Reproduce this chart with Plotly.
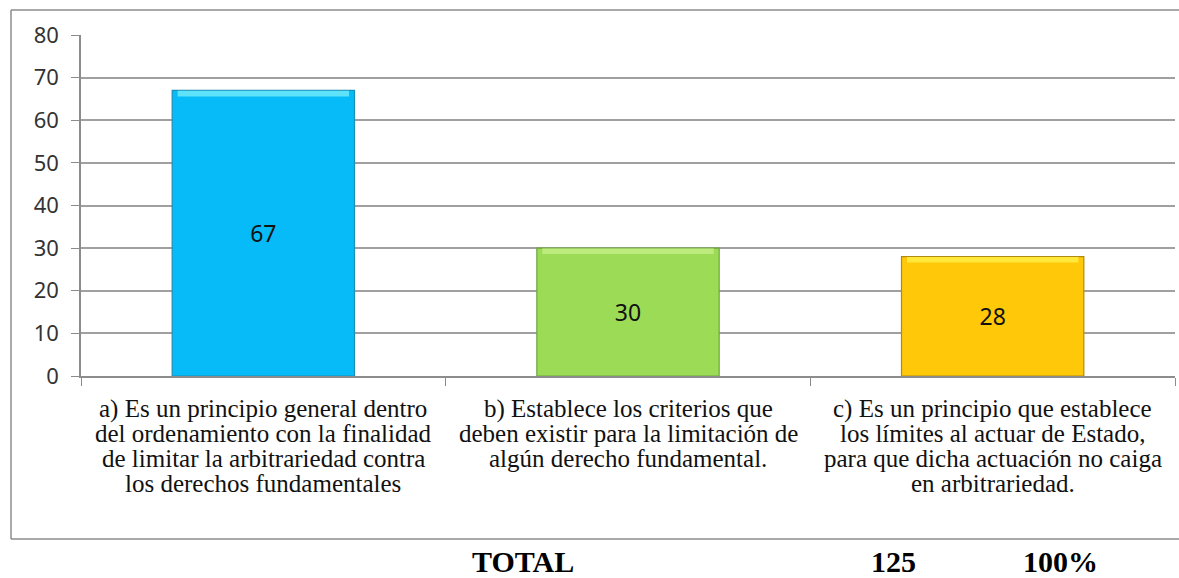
import plotly.graph_objects as go

# data
categories = ["a", "b", "c"]
category_labels = [
    "a) Es un principio general dentro<br>del ordenamiento con la finalidad<br>de limitar la arbitrariedad contra<br>los derechos fundamentales",
    "b) Establece los criterios que<br>deben existir para la limitación de<br>algún derecho fundamental.",
    "c) Es un principio que establece<br>los límites al actuar de Estado,<br>para que dicha actuación no caiga<br>en arbitrariedad.",
]
values = [67, 30, 28]
bar_colors = ["#06BBF8", "#9CDB56", "#FFC809"]
edge_colors = ["#1A8FB8", "#6FA53A", "#B08A10"]
top_colors = ["#5FE3FA", "#BDEB7E", "#FFE83A"]
y_ticks = [0, 10, 20, 30, 40, 50, 60, 70, 80]
total_row = ["TOTAL", "125", "100%"]

W, H = 1179, 578
PLOT_L, PLOT_R, PLOT_T, PLOT_B = 81, 1175, 35, 376   # pixels
L, T, R, B = PLOT_L, PLOT_T, W - PLOT_R, H - PLOT_B
pw, ph = PLOT_R - PLOT_L, PLOT_B - PLOT_T

def px_x(p):
    return (p - PLOT_L) / pw

def px_y(p):
    return (PLOT_B - p) / ph

fig = go.Figure()

fig.add_trace(go.Bar(
    x=categories, y=values,
    marker=dict(color=bar_colors, line=dict(color=edge_colors, width=1.2)),
    width=0.5,
    text=[str(v) for v in values],
    textposition="inside", insidetextanchor="middle",
    textfont=dict(family="Noto Sans", size=23, color="#111111"),
    hoverinfo="skip",
))

# light bevel strip at the top of each bar
fig.add_trace(go.Bar(
    x=categories, y=[1.3] * len(values), base=[v - 1.4 for v in values],
    marker=dict(color=top_colors, line=dict(width=0)),
    width=0.47, hoverinfo="skip",
))

fig.update_layout(
    width=W, height=H,
    margin=dict(l=L, r=R, t=T, b=B),
    paper_bgcolor="white", plot_bgcolor="white",
    showlegend=False, barmode="overlay",
    xaxis=dict(
        tickmode="array", tickvals=categories, showticklabels=False,
        tickson="boundaries", ticks="outside", ticklen=8, tickcolor="#8C8C8C",
        showgrid=False, showline=True, linecolor="#8C8C8C", linewidth=1.5,
    ),
    yaxis=dict(
        range=[0, 80], tickvals=y_ticks, ticks="outside", ticklen=8,
        tickcolor="#8C8C8C", showgrid=True, gridcolor="#A0A0A0", gridwidth=1.5,
        showline=True, linecolor="#8C8C8C", linewidth=1.5, zeroline=False,
        tickfont=dict(family="Noto Sans", size=22, color="#333333"),
        ticklabelstandoff=8,
    ),
)

# outer chart frame (its right side runs off the picture)
frame = dict(color="#8C8C8C", width=1.5)
fl, fr, ft, fb = px_x(11), px_x(1200), px_y(10), px_y(539)
fig.add_shape(type="line", xref="paper", yref="paper", x0=fl, x1=fl, y0=fb, y1=ft, line=frame)
fig.add_shape(type="line", xref="paper", yref="paper", x0=fl, x1=fr, y0=ft, y1=ft, line=frame)
fig.add_shape(type="line", xref="paper", yref="paper", x0=fl, x1=fr, y0=fb, y1=fb, line=frame)

# category labels, one annotation per line to keep the tight line spacing
for cat, label in zip(categories, category_labels):
    for i, line in enumerate(label.split("<br>")):
        fig.add_annotation(text=line, x=cat, xref="x", yref="paper",
                           y=px_y(409 + i * 24.7), yanchor="middle",
                           showarrow=False,
                           font=dict(family="Liberation Serif", size=25, color="#111111"))

for txt, xc in zip(total_row, [523, 918, 1100]):
    fig.add_annotation(text="<b>%s</b>" % txt, xref="paper", yref="paper",
                       x=px_x(xc), y=px_y(561), yanchor="middle", showarrow=False,
                       font=dict(family="Liberation Serif", size=30, color="black"))

# drop the default page margin so the figure sits at the window's corner
fig.write_html("out.html", config={"displayModeBar": False},
               post_script="document.body.style.margin='0';document.body.style.overflow='hidden';")
